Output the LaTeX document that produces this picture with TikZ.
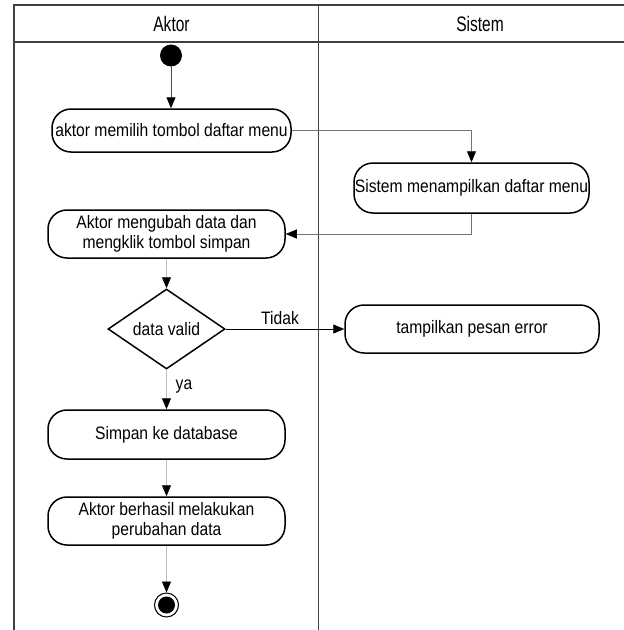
\documentclass[tikz,border=0pt]{standalone}
\usepackage{fontspec}
\setmainfont{Liberation Sans}[FakeStretch=0.87]
\newfontfamily\hdrfont{Liberation Sans}[FakeStretch=0.74]
\usetikzlibrary{arrows.meta,shapes.geometric}
\begin{document}
\begin{tikzpicture}[x=1pt,y=-1pt,
  lane/.style={draw=black!75,line width=1.3pt},
  act/.style={draw=black,line width=1.5pt,rounded corners=19pt,fill=white,
    inner sep=0pt,align=center,font=\fontsize{18}{20}\selectfont},
  hdr/.style={font=\hdrfont\fontsize{21}{23}\selectfont},
  lbl/.style={font=\fontsize{18}{20}\selectfont,inner sep=0pt},
  flow/.style={line width=0.9pt,-{Triangle[width=9pt,length=11pt,color=black]}},
]
\useasboundingbox (0,0) rectangle (624,630);
% swimlanes
\draw[lane] (14,630) -- (14,5) -- (624,5);
\draw[lane] (14,42) -- (624,42);
\draw[lane] (318.5,5) -- (318.5,630);
\node[hdr] (hA) at (171.5,24) {Aktor};
\node[hdr] (hS) at (480,24) {Sistem};
% nodes
\node[circle,fill=black,minimum size=22pt,inner sep=0pt] (start) at (171,55.5) {};
\node[act,minimum width=239pt,minimum height=43pt] (n1) at (171.5,130.5) {aktor memilih tombol daftar menu};
\node[act,minimum width=235pt,minimum height=50pt] (n2) at (471.5,188) {Sistem menampilkan daftar menu};
\node[act,minimum width=237pt,minimum height=48pt] (n3) at (166.5,234) {Aktor mengubah data dan\\mengklik tombol simpan};
\node[diamond,draw=black,line width=1.5pt,fill=white,inner sep=0pt,minimum width=117pt,minimum height=80pt] (d) at (166.5,329) {};
\node[lbl] (dt) at (d.center) {data valid};
\node[act,minimum width=254pt,minimum height=48pt] (n4) at (472,329) {tampilkan pesan error};
\node[act,minimum width=237pt,minimum height=49pt] (n5) at (166.5,434.5) {Simpan ke database};
\node[act,minimum width=237pt,minimum height=48pt] (n6) at (166.5,521) {Aktor berhasil melakukan\\perubahan data};
\node[circle,draw=black,line width=1pt,fill=white,minimum size=24pt,inner sep=0pt,
  path picture={\fill[black] (path picture bounding box.center) circle (8.5pt);}] (end) at (166.5,605) {};
% flows
\draw[flow,draw=black!70] (start) -- (start |- n1.north);
\draw[flow,draw=black!55] (n1.east) -| (n2.north);
\draw[flow,draw=black!55] (n2.south) |- (n3.east);
\draw[flow,draw=black!25] (n3.south) -- (d.north);
\draw[flow,draw=black] (d.east) -- (n4.west);
\draw[flow,draw=black!25] (d.south) -- (n5.north);
\draw[flow,draw=black!25] (n5.south) -- (n6.north);
\draw[flow,draw=black!25] (n6.south) -- (end.north);
% labels
\node[lbl] (lt) at (280,318) {Tidak};
\node[lbl] (ly) at (184,387) {ya};
\end{tikzpicture}
\end{document}
